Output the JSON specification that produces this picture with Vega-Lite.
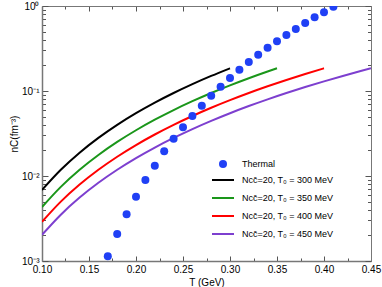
{
  "$schema": "https://vega.github.io/schema/vega-lite/v6.json",
  "autosize": {"type": "none"},
  "padding": {"left": 42, "top": 6, "right": 11, "bottom": 26},
  "width": 329,
  "height": 255,
  "config": {"view": {"stroke": null}, "font": "Liberation Sans"},
  "datasets": {
    "lines": [
      {"T": 0.10, "n": 0.00685, "series": "Ncc̄=20, T₀ = 300 MeV"},
      {"T": 0.12, "n": 0.01184, "series": "Ncc̄=20, T₀ = 300 MeV"},
      {"T": 0.14, "n": 0.0188, "series": "Ncc̄=20, T₀ = 300 MeV"},
      {"T": 0.16, "n": 0.02807, "series": "Ncc̄=20, T₀ = 300 MeV"},
      {"T": 0.18, "n": 0.03996, "series": "Ncc̄=20, T₀ = 300 MeV"},
      {"T": 0.20, "n": 0.0548, "series": "Ncc̄=20, T₀ = 300 MeV"},
      {"T": 0.22, "n": 0.07296, "series": "Ncc̄=20, T₀ = 300 MeV"},
      {"T": 0.24, "n": 0.0947, "series": "Ncc̄=20, T₀ = 300 MeV"},
      {"T": 0.26, "n": 0.1204, "series": "Ncc̄=20, T₀ = 300 MeV"},
      {"T": 0.28, "n": 0.1504, "series": "Ncc̄=20, T₀ = 300 MeV"},
      {"T": 0.30, "n": 0.185, "series": "Ncc̄=20, T₀ = 300 MeV"},
      {"T": 0.10, "n": 0.004315, "series": "Ncc̄=20, T₀ = 350 MeV"},
      {"T": 0.12, "n": 0.007456, "series": "Ncc̄=20, T₀ = 350 MeV"},
      {"T": 0.14, "n": 0.01184, "series": "Ncc̄=20, T₀ = 350 MeV"},
      {"T": 0.16, "n": 0.01767, "series": "Ncc̄=20, T₀ = 350 MeV"},
      {"T": 0.18, "n": 0.02516, "series": "Ncc̄=20, T₀ = 350 MeV"},
      {"T": 0.20, "n": 0.03452, "series": "Ncc̄=20, T₀ = 350 MeV"},
      {"T": 0.22, "n": 0.04595, "series": "Ncc̄=20, T₀ = 350 MeV"},
      {"T": 0.24, "n": 0.05965, "series": "Ncc̄=20, T₀ = 350 MeV"},
      {"T": 0.26, "n": 0.07584, "series": "Ncc̄=20, T₀ = 350 MeV"},
      {"T": 0.28, "n": 0.09472, "series": "Ncc̄=20, T₀ = 350 MeV"},
      {"T": 0.30, "n": 0.1165, "series": "Ncc̄=20, T₀ = 350 MeV"},
      {"T": 0.32, "n": 0.1414, "series": "Ncc̄=20, T₀ = 350 MeV"},
      {"T": 0.34, "n": 0.1696, "series": "Ncc̄=20, T₀ = 350 MeV"},
      {"T": 0.35, "n": 0.185, "series": "Ncc̄=20, T₀ = 350 MeV"},
      {"T": 0.10, "n": 0.002891, "series": "Ncc̄=20, T₀ = 400 MeV"},
      {"T": 0.12, "n": 0.004995, "series": "Ncc̄=20, T₀ = 400 MeV"},
      {"T": 0.14, "n": 0.007933, "series": "Ncc̄=20, T₀ = 400 MeV"},
      {"T": 0.16, "n": 0.01184, "series": "Ncc̄=20, T₀ = 400 MeV"},
      {"T": 0.18, "n": 0.01686, "series": "Ncc̄=20, T₀ = 400 MeV"},
      {"T": 0.20, "n": 0.02313, "series": "Ncc̄=20, T₀ = 400 MeV"},
      {"T": 0.22, "n": 0.03078, "series": "Ncc̄=20, T₀ = 400 MeV"},
      {"T": 0.24, "n": 0.03996, "series": "Ncc̄=20, T₀ = 400 MeV"},
      {"T": 0.26, "n": 0.05081, "series": "Ncc̄=20, T₀ = 400 MeV"},
      {"T": 0.28, "n": 0.06346, "series": "Ncc̄=20, T₀ = 400 MeV"},
      {"T": 0.30, "n": 0.07805, "series": "Ncc̄=20, T₀ = 400 MeV"},
      {"T": 0.32, "n": 0.09473, "series": "Ncc̄=20, T₀ = 400 MeV"},
      {"T": 0.34, "n": 0.1136, "series": "Ncc̄=20, T₀ = 400 MeV"},
      {"T": 0.36, "n": 0.1349, "series": "Ncc̄=20, T₀ = 400 MeV"},
      {"T": 0.38, "n": 0.1586, "series": "Ncc̄=20, T₀ = 400 MeV"},
      {"T": 0.40, "n": 0.185, "series": "Ncc̄=20, T₀ = 400 MeV"},
      {"T": 0.10, "n": 0.00203, "series": "Ncc̄=20, T₀ = 450 MeV"},
      {"T": 0.12, "n": 0.003508, "series": "Ncc̄=20, T₀ = 450 MeV"},
      {"T": 0.14, "n": 0.005571, "series": "Ncc̄=20, T₀ = 450 MeV"},
      {"T": 0.16, "n": 0.008316, "series": "Ncc̄=20, T₀ = 450 MeV"},
      {"T": 0.18, "n": 0.01184, "series": "Ncc̄=20, T₀ = 450 MeV"},
      {"T": 0.20, "n": 0.01624, "series": "Ncc̄=20, T₀ = 450 MeV"},
      {"T": 0.22, "n": 0.02162, "series": "Ncc̄=20, T₀ = 450 MeV"},
      {"T": 0.24, "n": 0.02806, "series": "Ncc̄=20, T₀ = 450 MeV"},
      {"T": 0.26, "n": 0.03568, "series": "Ncc̄=20, T₀ = 450 MeV"},
      {"T": 0.28, "n": 0.04456, "series": "Ncc̄=20, T₀ = 450 MeV"},
      {"T": 0.30, "n": 0.05481, "series": "Ncc̄=20, T₀ = 450 MeV"},
      {"T": 0.32, "n": 0.06652, "series": "Ncc̄=20, T₀ = 450 MeV"},
      {"T": 0.34, "n": 0.07979, "series": "Ncc̄=20, T₀ = 450 MeV"},
      {"T": 0.36, "n": 0.09472, "series": "Ncc̄=20, T₀ = 450 MeV"},
      {"T": 0.38, "n": 0.1114, "series": "Ncc̄=20, T₀ = 450 MeV"},
      {"T": 0.40, "n": 0.1299, "series": "Ncc̄=20, T₀ = 450 MeV"},
      {"T": 0.42, "n": 0.1504, "series": "Ncc̄=20, T₀ = 450 MeV"},
      {"T": 0.44, "n": 0.173, "series": "Ncc̄=20, T₀ = 450 MeV"},
      {"T": 0.45, "n": 0.185, "series": "Ncc̄=20, T₀ = 450 MeV"}
    ],
    "thermal": [
      {"T": 0.17, "n": 0.00114, "series": "Thermal"},
      {"T": 0.18, "n": 0.00208, "series": "Thermal"},
      {"T": 0.19, "n": 0.00354, "series": "Thermal"},
      {"T": 0.20, "n": 0.0057, "series": "Thermal"},
      {"T": 0.21, "n": 0.00897, "series": "Thermal"},
      {"T": 0.22, "n": 0.0132, "series": "Thermal"},
      {"T": 0.23, "n": 0.0195, "series": "Thermal"},
      {"T": 0.24, "n": 0.0275, "series": "Thermal"},
      {"T": 0.25, "n": 0.0374, "series": "Thermal"},
      {"T": 0.26, "n": 0.0508, "series": "Thermal"},
      {"T": 0.27, "n": 0.0671, "series": "Thermal"},
      {"T": 0.28, "n": 0.0879, "series": "Thermal"},
      {"T": 0.29, "n": 0.112, "series": "Thermal"},
      {"T": 0.30, "n": 0.142, "series": "Thermal"},
      {"T": 0.31, "n": 0.178, "series": "Thermal"},
      {"T": 0.32, "n": 0.219, "series": "Thermal"},
      {"T": 0.33, "n": 0.267, "series": "Thermal"},
      {"T": 0.34, "n": 0.323, "series": "Thermal"},
      {"T": 0.35, "n": 0.384, "series": "Thermal"},
      {"T": 0.36, "n": 0.456, "series": "Thermal"},
      {"T": 0.37, "n": 0.536, "series": "Thermal"},
      {"T": 0.38, "n": 0.631, "series": "Thermal"},
      {"T": 0.39, "n": 0.736, "series": "Thermal"},
      {"T": 0.40, "n": 0.843, "series": "Thermal"},
      {"T": 0.41, "n": 0.98, "series": "Thermal"}
    ]
  },
  "resolve": {"axis": {"x": "independent", "y": "independent"}, "legend": {"color": "independent", "shape": "independent"}},
  "layer": [
    {
      "data": {"name": "lines"},
      "mark": {"type": "line", "strokeWidth": 2, "interpolate": "monotone", "clip": true},
      "encoding": {
        "x": {
          "field": "T", "type": "quantitative",
          "scale": {"domain": [0.1, 0.45], "nice": false, "zero": false},
          "axis": {
            "orient": "bottom", "title": "T (GeV)", "grid": false,
            "values": [0.1, 0.125, 0.15, 0.175, 0.2, 0.225, 0.25, 0.275, 0.3, 0.325, 0.35, 0.375, 0.4, 0.425, 0.45],
            "labelExpr": "abs(datum.value*20-round(datum.value*20))<0.001 ? format(datum.value,'.2f') : ''",
            "tickSize": {"condition": {"test": "abs(datum.value*20-round(datum.value*20))<0.001", "value": -5}, "value": -3},
            "labelPadding": 8, "labelOverlap": false, "labelBound": false, "labelFlush": false,
            "labelFontSize": 10, "labelColor": "#000", "labelFont": "Liberation Sans",
            "titleFontSize": 10, "titleFontWeight": "normal", "titleFont": "Liberation Sans", "titleColor": "#000", "titlePadding": 1,
            "domainColor": "#777", "domainWidth": 1.5, "tickColor": "#555"
          }
        },
        "y": {
          "field": "n", "type": "quantitative",
          "scale": {"type": "log", "domain": [0.001, 1], "nice": false},
          "axis": {
            "orient": "left", "title": "nC(fm⁻³)", "grid": false,
            "values": [0.001, 0.002, 0.003, 0.004, 0.005, 0.006, 0.007, 0.008, 0.009, 0.01, 0.02, 0.03, 0.04, 0.05, 0.06, 0.07, 0.08, 0.09, 0.1, 0.2, 0.3, 0.4, 0.5, 0.6, 0.7, 0.8, 0.9, 1],
            "labelExpr": "datum.value==1 ? '10⁰' : datum.value==0.1 ? '10⁻¹' : datum.value==0.01 ? '10⁻²' : datum.value==0.001 ? '10⁻³' : ''",
            "tickSize": {"condition": {"test": "abs(log(datum.value)/LN10-round(log(datum.value)/LN10))<0.001", "value": -6}, "value": -3.5},
            "labelPadding": 9, "labelOverlap": false, "labelBound": false, "labelFlush": false,
            "labelFontSize": 10, "labelColor": "#000", "labelFont": "Liberation Sans",
            "titleFontSize": 10, "titleFontWeight": "normal", "titleFont": "Liberation Sans", "titleColor": "#000", "titlePadding": 2,
            "domainColor": "#777", "domainWidth": 1.5, "tickColor": "#555"
          }
        },
        "color": {
          "field": "series", "type": "nominal",
          "scale": {
            "domain": ["Ncc̄=20, T₀ = 300 MeV", "Ncc̄=20, T₀ = 350 MeV", "Ncc̄=20, T₀ = 400 MeV", "Ncc̄=20, T₀ = 450 MeV"],
            "range": ["#000000", "#1a961a", "#ff0000", "#7d3fcf"]
          },
          "legend": {
            "orient": "none", "legendX": 169, "legendY": 162, "title": null,
            "symbolType": "stroke", "symbolSize": 484, "symbolStrokeWidth": 2,
            "labelFontSize": 9, "labelFont": "Liberation Sans", "labelColor": "#000",
            "labelOffset": 7, "rowPadding": 1, "padding": 0
          }
        }
      }
    },
    {
      "data": {"name": "thermal"},
      "mark": {"type": "point", "filled": true, "size": 64, "opacity": 1, "color": "#2040f5", "clip": true},
      "encoding": {
        "x": {
          "field": "T", "type": "quantitative",
          "scale": {"domain": [0.1, 0.45], "nice": false, "zero": false},
          "axis": {
            "orient": "top", "title": null, "grid": false, "labels": false,
            "values": [0.1, 0.125, 0.15, 0.175, 0.2, 0.225, 0.25, 0.275, 0.3, 0.325, 0.35, 0.375, 0.4, 0.425, 0.45],
            "tickSize": {"condition": {"test": "abs(datum.value*20-round(datum.value*20))<0.001", "value": -5}, "value": -3},
            "domainColor": "#777", "domainWidth": 1, "tickColor": "#555"
          }
        },
        "y": {
          "field": "n", "type": "quantitative",
          "scale": {"type": "log", "domain": [0.001, 1], "nice": false},
          "axis": {
            "orient": "right", "title": null, "grid": false, "labels": false,
            "values": [0.001, 0.002, 0.003, 0.004, 0.005, 0.006, 0.007, 0.008, 0.009, 0.01, 0.02, 0.03, 0.04, 0.05, 0.06, 0.07, 0.08, 0.09, 0.1, 0.2, 0.3, 0.4, 0.5, 0.6, 0.7, 0.8, 0.9, 1],
            "tickSize": {"condition": {"test": "abs(log(datum.value)/LN10-round(log(datum.value)/LN10))<0.001", "value": -6}, "value": -3.5},
            "domainColor": "#777", "domainWidth": 1, "tickColor": "#555"
          }
        },
        "shape": {
          "field": "series", "type": "nominal",
          "scale": {"domain": ["Thermal"], "range": ["circle"]},
          "legend": {
            "orient": "none", "legendX": 176, "legendY": 153, "title": null,
            "symbolFillColor": "#2040f5", "symbolStrokeColor": "#2040f5", "symbolSize": 64, "symbolOpacity": 1,
            "labelFontSize": 9, "labelFont": "Liberation Sans", "labelColor": "#000",
            "labelOffset": 14, "padding": 0
          }
        }
      }
    }
  ]
}
